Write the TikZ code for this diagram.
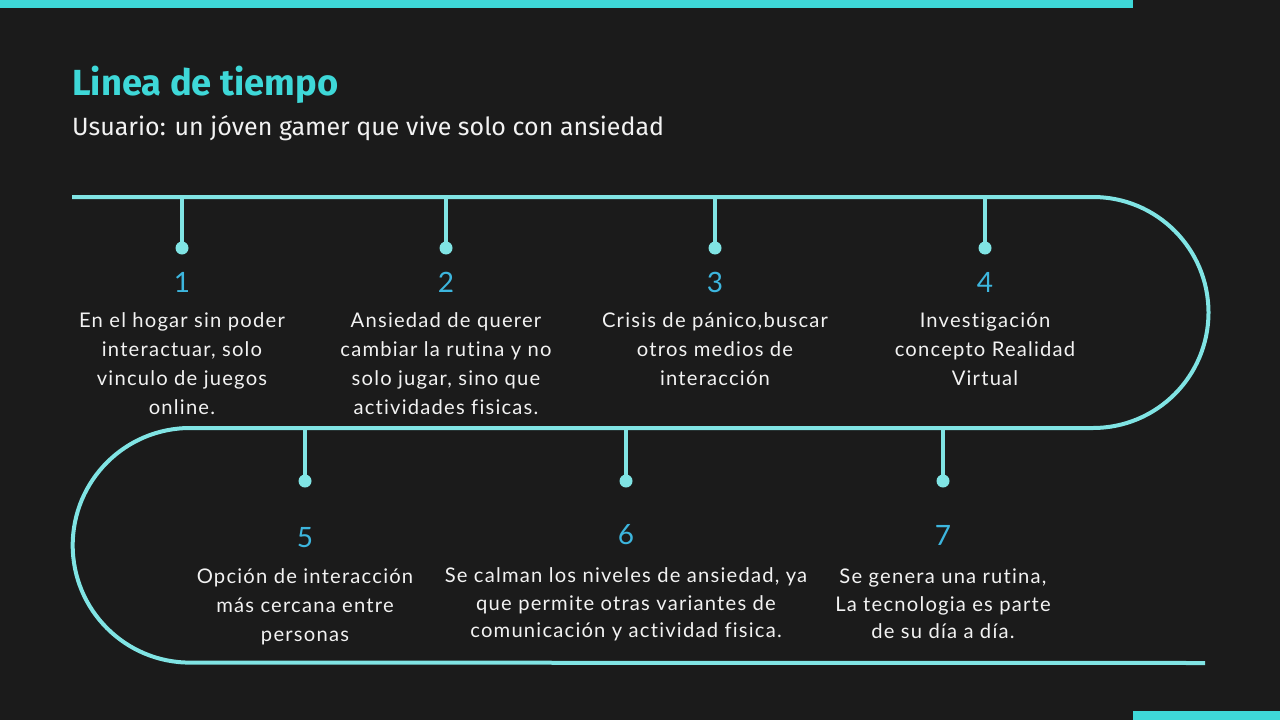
\documentclass[tikz,border=0pt]{standalone}
\usepackage{fontspec}
\setmainfont{Lato}
\newfontfamily\bodyfont[LetterSpace=6,Ligatures=NoCommon]{Lato}
\newfontfamily\titlefont{Fira Sans}
\definecolor{bgc}{HTML}{1B1B1B}
\definecolor{barc}{HTML}{3ED8D8}
\definecolor{linec}{HTML}{80E4E4}
\definecolor{numc}{HTML}{3DB6DE}
\definecolor{txtc}{HTML}{F2F2F2}
\tikzset{
  tl/.style={line width=4pt, draw=linec},
  dotn/.style={circle, fill=linec, inner sep=0pt, minimum size=13pt},
  numn/.style={text=numc, font=\bodyfont\fontsize{28}{28}\selectfont, inner sep=0pt},
  txtn/.style={text=txtc, font=\bodyfont\fontsize{20.2}{29}\selectfont, align=center, inner sep=0pt},
  txtb/.style={text=txtc, font=\bodyfont\fontsize{20.2}{27.7}\selectfont, align=center, inner sep=0pt}
}
\begin{document}
\begin{tikzpicture}[x=1pt,y=-1pt]
\useasboundingbox (0,0) rectangle (1280,720);
\fill[bgc] (0,0) rectangle (1280,720);
\fill[barc] (0,0) rectangle (1133,8);
\fill[barc] (1133,711) rectangle (1280,720);

\node[anchor=base west, inner sep=0pt, text=barc, font=\titlefont\bfseries\fontsize{36.3}{36}\selectfont] (title) at (72,95) {Linea de tiempo};
\node[anchor=base west, inner sep=0pt, text=txtc, font=\titlefont\fontsize{25}{25}\selectfont] (sub) at (72,135) {Usuario: un jóven gamer que vive solo con ansiedad};

% timeline path
\coordinate (start) at (72,197);
\coordinate (finish) at (1205,663);
\draw[tl] (start) -- (1093,197) arc(-90:90:115.5) -- (190,428) arc(270:90:117.3) -- (finish);

% ticks top
\foreach \i/\x in {1/182, 2/446, 3/715, 4/985}{
  \coordinate (t\i) at (\x,197);
  \node[dotn] (d\i) at (\x,248) {};
  \draw[tl] (t\i) -- (d\i.center);
  \node[numn] (n\i) at (\x,282) {\i};
}
\foreach \i/\x/\ny in {5/305/538, 6/626/535, 7/943/535}{
  \coordinate (t\i) at (\x,429);
  \node[dotn] (d\i) at (\x,481) {};
  \draw[tl] (t\i) -- (d\i.center);
  \node[numn] (n\i) at (\x,\ny) {\i};
}

\node[txtn] (e1) at (182,364) {En el hogar sin poder\\interactuar, solo\\vinculo de juegos\\online.};
\node[txtn] (e2) at (446,364) {Ansiedad de querer\\cambiar la rutina y no\\solo jugar, sino que\\actividades fisicas.};
\node[txtn] (e3) at (715,349.5) {Crisis de pánico,buscar\\otros medios de\\interacción};
\node[txtn] (e4) at (985,349.5) {Investigación\\concepto Realidad\\Virtual};
\node[txtn] (e5) at (305,606.5) {Opción de interacción\\más cercana entre\\personas};
\node[txtb] (e6) at (626,604.5) {Se calman los niveles de ansiedad, ya\\que permite otras variantes de\\comunicación y actividad fisica.};
\node[txtb] (e7) at (943,604) {Se genera una rutina,\\La tecnologia es parte\\de su día a día.};
\end{tikzpicture}
\end{document}
